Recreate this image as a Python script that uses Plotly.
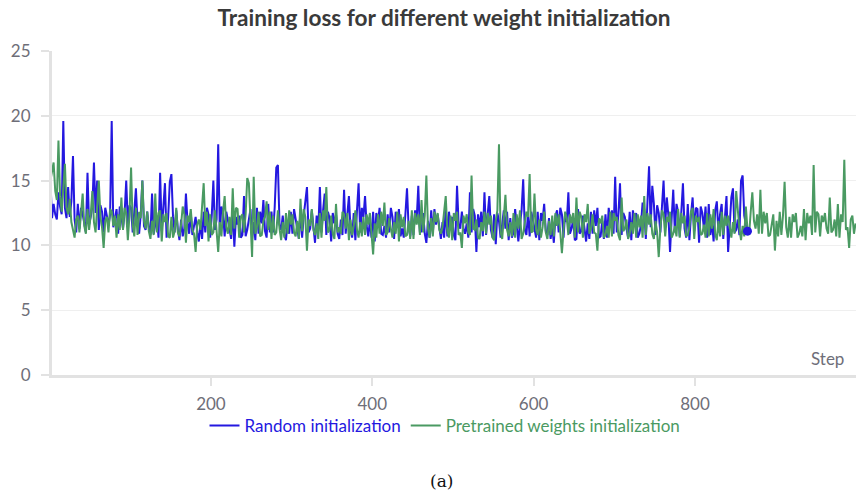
import plotly.graph_objects as go

# ---------------- data ----------------
random_start, random_every = 1, 2
random_loss = [
    15.0, 12.1, 13.2, 12.4, 12.0, 14.1, 13.0, 12.4, 19.6, 12.9, 12.1, 14.5, 12.2, 13.4, 16.9,
    12.0, 11.0, 13.2, 11.3, 12.9, 12.4, 11.8, 11.0, 15.6, 11.6, 12.2, 13.0, 16.4, 12.5, 15.0,
    11.2, 13.1, 12.6, 11.0, 12.9, 12.3, 11.5, 12.4, 19.6, 11.4, 12.1, 12.8, 10.9, 13.0, 12.2,
    11.3, 12.5, 15.0, 11.6, 13.1, 12.9, 11.0, 12.6, 14.4, 11.8, 10.9, 12.4, 15.0, 11.5, 11.2,
    12.6, 11.4, 10.8, 14.0, 10.9, 11.5, 12.3, 10.6, 15.6, 11.1, 12.7, 14.8, 10.6, 12.2, 14.9,
    15.5, 12.2, 11.0, 12.7, 11.2, 10.4, 12.0, 10.7, 11.3, 14.0, 11.8, 10.9, 12.5, 10.8, 11.4,
    12.2, 11.0, 10.3, 11.8, 10.5, 12.6, 11.0, 12.9, 12.4, 10.6, 12.3, 15.0, 11.2, 12.0, 17.8,
    11.0, 13.0, 12.5, 10.7, 12.6, 12.0, 11.3, 10.5, 12.8, 9.9, 12.2, 11.6, 12.3, 10.6, 10.8,
    13.8, 10.7, 11.2, 12.0, 12.8, 10.5, 11.8, 10.4, 12.9, 10.9, 12.6, 11.7, 13.5, 11.1, 10.6,
    13.2, 11.0, 12.6, 11.0, 12.9, 16.0, 16.2, 11.6, 11.2, 12.3, 10.8, 10.4, 11.8, 10.9, 12.6,
    10.9, 12.8, 12.0, 11.4, 10.5, 12.8, 10.6, 12.3, 13.2, 14.5, 11.0, 11.3, 12.7, 11.2, 10.2,
    12.3, 11.1, 14.5, 11.0, 12.7, 14.0, 10.8, 12.6, 12.1, 10.3, 12.5, 11.7, 12.4, 10.9, 10.5,
    12.0, 10.8, 14.3, 10.9, 12.4, 13.8, 11.2, 10.6, 12.5, 10.4, 12.7, 14.8, 11.0, 12.9, 12.2,
    13.8, 11.5, 10.7, 11.9, 10.6, 12.6, 10.3, 12.5, 11.8, 12.9, 10.9, 10.8, 11.5, 10.6, 12.4,
    11.0, 12.9, 12.2, 10.5, 12.6, 11.7, 12.8, 10.7, 11.3, 10.6, 12.4, 14.4, 11.4, 10.7, 12.3,
    10.8, 12.7, 12.0, 14.6, 11.0, 11.1, 12.5, 10.9, 10.2, 11.9, 10.6, 12.7, 10.9, 12.8, 11.6,
    12.4, 11.2, 10.5, 11.8, 10.6, 12.9, 10.7, 12.6, 11.5, 12.2, 10.8, 10.4, 14.6, 11.6, 11.3,
    12.6, 11.3, 10.9, 11.7, 10.6, 14.1, 11.0, 12.8, 12.3, 9.5, 12.4, 11.4, 12.6, 10.7, 14.1,
    10.8, 12.4, 13.8, 11.2, 10.6, 12.4, 10.1, 12.5, 11.9, 10.6, 11.8, 12.7, 11.3, 12.6, 10.4,
    12.1, 10.6, 11.0, 12.8, 11.3, 10.3, 11.6, 12.7, 15.1, 11.2, 10.8, 12.5, 10.7, 12.6, 12.0,
    11.3, 10.6, 12.6, 10.4, 12.5, 11.9, 13.2, 11.1, 10.8, 12.1, 10.5, 11.4, 10.2, 12.3, 12.7,
    11.0, 12.9, 12.4, 10.6, 12.5, 11.8, 14.1, 10.9, 11.3, 12.0, 10.4, 10.5, 12.8, 10.9, 11.1,
    12.3, 11.4, 10.3, 11.7, 10.5, 12.6, 10.9, 12.7, 11.5, 12.9, 10.6, 10.7, 11.9, 10.5, 12.4,
    10.6, 12.9, 11.8, 12.7, 10.9, 15.3, 11.0, 12.4, 14.8, 10.8, 12.5, 12.2, 11.3, 10.6, 12.6,
    10.4, 12.7, 11.9, 12.5, 10.6, 10.9, 11.6, 13.3, 12.8, 10.5, 12.9, 16.1, 11.4, 14.6, 13.2,
    10.8, 13.1, 12.5, 11.0, 13.0, 15.0, 11.6, 13.7, 12.3, 9.5, 12.1, 14.3, 11.0, 13.2, 12.6,
    10.7, 12.6, 14.8, 11.3, 10.6, 13.2, 10.4, 12.4, 13.7, 11.1, 12.9, 12.8, 10.2, 13.0, 12.5,
    11.3, 13.0, 10.6, 13.2, 10.8, 11.8, 10.3, 12.7, 13.4, 11.0, 12.4, 13.2, 10.5, 12.3, 13.8,
    9.5, 12.2, 13.7, 14.4, 11.0, 11.2, 12.0, 10.8, 15.0, 15.4, 12.3, 11.6, 11.1,
]

pretrained_start, pretrained_every = 1, 2
pretrained_loss = [
    15.0, 15.6, 16.4, 14.2, 13.5, 18.1, 13.8, 12.6, 14.6, 16.3, 12.9, 12.4, 13.6, 11.8, 11.2,
    10.6, 12.0, 12.3, 11.0, 12.6, 14.0, 11.5, 10.9, 12.8, 11.2, 12.4, 14.2, 11.8, 11.0, 13.0,
    15.0, 12.2, 11.4, 9.8, 11.9, 12.2, 11.0, 12.8, 12.6, 11.5, 12.3, 10.6, 12.4, 11.2, 13.7,
    11.2, 12.9, 12.5, 10.4, 12.3, 16.0, 11.6, 10.7, 12.9, 10.8, 12.6, 12.1, 15.0, 11.9, 11.3,
    12.6, 11.1, 10.5, 11.9, 10.8, 14.0, 11.0, 12.5, 12.7, 10.3, 12.4, 11.8, 12.5, 10.7, 10.6,
    12.2, 10.6, 11.1, 12.9, 11.0, 10.7, 11.6, 13.0, 12.4, 10.2, 12.3, 11.8, 12.8, 11.2, 10.9,
    9.5, 11.6, 12.0, 11.2, 12.8, 14.8, 11.5, 12.6, 10.3, 12.4, 10.8, 11.0, 12.7, 11.3, 9.5,
    11.8, 10.7, 12.6, 13.8, 11.4, 10.9, 12.2, 10.8, 14.4, 11.3, 12.9, 12.8, 10.6, 12.2, 12.4,
    11.0, 12.4, 15.2, 14.8, 11.6, 9.1, 15.3, 10.9, 11.4, 12.6, 10.7, 10.8, 11.9, 12.2, 13.4,
    11.2, 12.6, 10.5, 12.3, 10.8, 11.0, 12.7, 11.3, 10.4, 11.8, 10.6, 12.5, 10.9, 12.7, 11.6,
    12.4, 11.0, 10.7, 11.9, 10.5, 13.6, 11.1, 12.8, 12.2, 9.6, 12.0, 11.5, 12.8, 11.2, 10.8,
    11.7, 10.5, 12.5, 10.6, 12.7, 11.9, 14.5, 11.0, 11.2, 12.3, 10.9, 10.5, 13.2, 11.0, 11.4,
    10.9, 12.6, 12.4, 11.3, 12.5, 10.4, 12.0, 10.8, 11.5, 12.7, 11.2, 10.6, 11.8, 10.7, 12.2,
    10.8, 12.4, 11.6, 12.5, 10.7, 9.3, 11.7, 10.6, 12.4, 10.9, 12.6, 11.5, 13.3, 10.8, 11.0,
    12.1, 11.3, 10.6, 11.8, 10.9, 12.6, 10.3, 12.4, 11.4, 12.2, 10.7, 10.8, 11.9, 10.5, 12.7,
    10.5, 12.5, 11.6, 12.4, 10.8, 13.5, 11.0, 12.3, 15.4, 11.3, 10.6, 12.1, 10.7, 12.6, 11.8,
    12.5, 11.2, 10.9, 11.4, 12.4, 13.8, 11.1, 10.6, 12.3, 10.4, 12.5, 11.9, 12.6, 10.8, 11.0,
    9.8, 12.3, 11.7, 12.4, 11.0, 10.8, 15.4, 11.3, 11.2, 12.0, 10.6, 10.5, 11.8, 11.1, 12.6,
    10.9, 12.5, 11.6, 12.3, 10.6, 10.4, 11.9, 12.7, 17.8, 11.0, 10.5, 12.2, 13.9, 11.2, 10.7,
    11.8, 10.7, 12.5, 10.6, 12.4, 11.3, 12.7, 10.5, 10.9, 11.6, 12.6, 12.2, 15.5, 11.0, 11.1,
    14.0, 11.2, 10.8, 12.0, 10.6, 11.4, 12.6, 11.0, 10.5, 11.9, 10.8, 12.3, 10.7, 12.5, 11.5,
    12.4, 11.0, 9.4, 11.2, 12.6, 12.1, 10.8, 12.4, 11.7, 12.5, 10.6, 13.7, 11.0, 12.6, 12.2,
    10.6, 12.4, 11.8, 13.2, 10.9, 11.3, 12.4, 11.0, 10.9, 9.6, 12.1, 11.7, 12.3, 10.6, 10.8,
    11.5, 10.6, 12.6, 10.7, 12.5, 11.9, 12.2, 10.8, 10.4, 13.7, 11.1, 11.3, 12.0, 10.5, 10.9,
    11.8, 10.9, 12.5, 10.6, 12.4, 11.4, 12.3, 10.6, 13.8, 10.8, 12.5, 11.6, 12.4, 10.9, 10.5,
    11.9, 11.0, 9.1, 11.3, 12.7, 12.4, 10.7, 12.2, 11.8, 12.6, 10.6, 10.9, 11.5, 10.7, 12.8,
    10.6, 12.5, 11.7, 12.3, 10.7, 10.8, 11.4, 12.6, 12.9, 10.5, 12.3, 11.8, 12.2, 10.8, 10.9,
    11.6, 10.6, 12.5, 10.7, 12.4, 11.3, 12.8, 10.9, 10.4, 11.9, 10.7, 12.6, 10.8, 12.3, 11.5,
    12.3, 11.2, 10.6, 11.8, 10.9, 14.2, 12.7, 11.3, 10.4, 11.5, 10.7, 13.0, 11.2, 10.8, 12.6,
    14.1, 11.9, 11.3, 12.4, 10.9, 14.3, 10.9, 12.6, 11.7, 12.5, 10.7, 10.8, 11.6, 12.4, 9.6,
    11.9, 10.7, 12.6, 10.8, 12.3, 14.9, 11.4, 10.6, 12.2, 10.6, 12.4, 11.8, 12.5, 10.6, 10.9,
    11.5, 10.7, 12.8, 10.4, 12.5, 11.7, 12.3, 10.8, 16.2, 11.0, 12.6, 12.4, 10.7, 12.3, 11.8,
    12.5, 11.3, 10.9, 13.7, 11.0, 11.2, 12.0, 10.7, 13.2, 10.6, 12.4, 11.8, 16.6, 11.2, 11.4,
    9.8, 12.0, 12.3, 10.9, 11.7,
]

x_ticks = [200, 400, 600, 800]
y_ticks = [0, 5, 10, 15, 20, 25]
series_names = ["Random initialization", "Pretrained weights initialization"]
title_text = "Training loss for different weight initialization"

random_steps = [random_start + random_every * i for i in range(len(random_loss))]
pretrained_steps = [pretrained_start + pretrained_every * i for i in range(len(pretrained_loss))]

BLUE = "#2418e0"
GREEN = "#4a9a62"
GRAY = "#6e6e78"
AXIS = "#e2e2e2"
FONT = "Lato"

fig = go.Figure()
fig.add_trace(go.Scatter(
    x=random_steps, y=random_loss, mode="lines",
    name=f"<span style='color:{BLUE}'>{series_names[0]}</span>",
    line=dict(color=BLUE, width=2),
))
fig.add_trace(go.Scatter(
    x=pretrained_steps, y=pretrained_loss, mode="lines",
    name=f"<span style='color:{GREEN}'>{series_names[1]}</span>",
    line=dict(color=GREEN, width=2),
))
# end-of-run marker for the random-initialization run
fig.add_trace(go.Scatter(
    x=random_steps[-1:], y=random_loss[-1:], mode="markers",
    marker=dict(size=9, color=BLUE), showlegend=False,
))

fig.update_layout(
    width=856, height=493,
    margin=dict(l=52, r=0, t=51, b=118, autoexpand=False),
    paper_bgcolor="white", plot_bgcolor="white",
    font=dict(family=FONT, size=17, color=GRAY),
    title=dict(text=f"<b>{title_text}</b>", x=444 / 856, xanchor="center",
               y=1 - 18 / 493, yanchor="middle", yref="container",
               font=dict(family=FONT, size=22.6, color="#3a3a3a")),
    showlegend=True,
    legend=dict(orientation="h", xref="container", x=445 / 856, xanchor="center",
                yref="container", y=1 - 426 / 493, yanchor="middle",
                font=dict(family=FONT, size=17), itemwidth=30,
                bgcolor="rgba(0,0,0,0)"),
    xaxis=dict(range=[3, 999.5], tickvals=x_ticks, ticks="outside", ticklen=8,
               tickcolor=AXIS, tickwidth=2, ticklabelstandoff=4, automargin=False,
               showline=True, linecolor=AXIS, linewidth=3,
               showgrid=False, zeroline=False,
               tickfont=dict(family=FONT, size=17, color=GRAY)),
    yaxis=dict(range=[0, 25], tickvals=y_ticks, ticks="outside", ticklen=8,
               tickcolor=AXIS, tickwidth=2, ticklabelstandoff=7, automargin=False,
               showline=True, linecolor=AXIS, linewidth=3,
               showgrid=True, gridcolor="#efefef", gridwidth=1, zeroline=False,
               tickfont=dict(family=FONT, size=17, color=GRAY)),
    annotations=[
        dict(text="Step", xref="paper", yref="paper", x=1, y=0,
             xanchor="right", yanchor="bottom", xshift=-10, yshift=4,
             showarrow=False, font=dict(family=FONT, size=17, color=GRAY)),
        dict(text="(a)", xref="paper", yref="paper", x=(441 - 52) / 804,
             y=(375 - 481) / 324, xanchor="center", yanchor="middle",
             showarrow=False, font=dict(family="DejaVu Serif", size=17, color="#111111")),
    ],
)

fig.write_html("out.html")
